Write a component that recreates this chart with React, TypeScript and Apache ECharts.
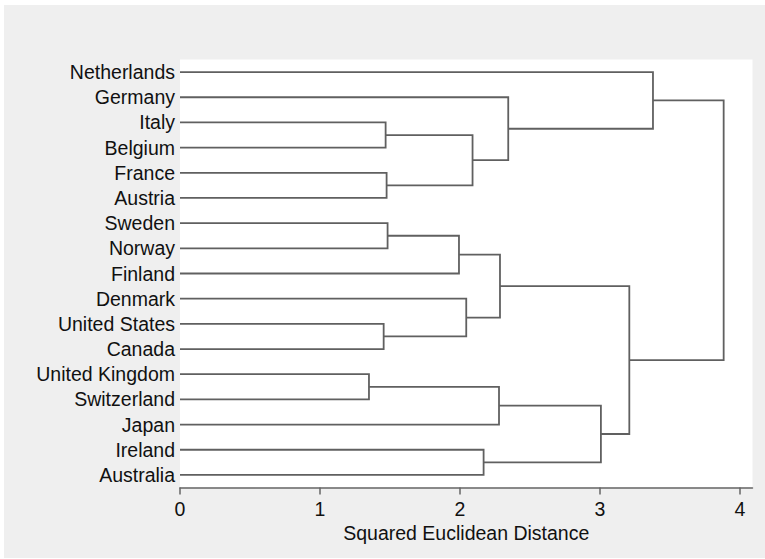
import React, { useEffect, useRef } from 'react';
import * as echarts from 'echarts';

// Leaves, top to bottom
const leaves = [
  'Netherlands', 'Germany', 'Italy', 'Belgium', 'France', 'Austria',
  'Sweden', 'Norway', 'Finland', 'Denmark', 'United States', 'Canada',
  'United Kingdom', 'Switzerland', 'Japan', 'Ireland', 'Australia',
];

// Merges: node ids 0..16 are leaves, merge i creates node 17 + i
const mergeA = [2, 4, 10, 6, 12, 17, 20, 9, 23, 21, 15, 1, 26, 25, 0, 31];
const mergeB = [3, 5, 11, 7, 13, 18, 8, 19, 24, 14, 16, 22, 27, 29, 28, 30];
const mergeHeight = [
  1.469, 1.476, 1.455, 1.483, 1.35, 2.09, 1.993, 2.045, 2.286, 2.279, 2.169,
  2.345, 3.007, 3.21, 3.379, 3.884,
];

const xTicks = [0, 1, 2, 3, 4];
const axisTitle = 'Squared Euclidean Distance';

const FONT = '"Liberation Sans", Arial, Helvetica, sans-serif';

function buildSegments() {
  const nodeX: number[] = leaves.map(() => 0);
  const nodeY: number[] = leaves.map((_, i) => i);
  const segs: { coords: number[][] }[] = [];
  mergeA.forEach((a, i) => {
    const b = mergeB[i];
    const h = mergeHeight[i];
    segs.push({
      coords: [
        [nodeX[a], nodeY[a]],
        [h, nodeY[a]],
        [h, nodeY[b]],
        [nodeX[b], nodeY[b]],
      ],
    });
    nodeX.push(h);
    nodeY.push((nodeY[a] + nodeY[b]) / 2);
  });
  return segs;
}

export default function App() {
  const ref = useRef<HTMLDivElement>(null);
  useEffect(() => {
    if (!ref.current) return;
    const chart = echarts.init(ref.current, undefined, { renderer: 'svg' });
    const leafIdx = leaves.map((_, i) => i);
    chart.setOption({
      animation: false,
      backgroundColor: '#efefef',
      grid: {
        left: 176,
        right: 12.5,
        top: 54.5,
        bottom: 70.5,
        show: true,
        backgroundColor: '#ffffff',
        borderWidth: 0,
      },
      xAxis: {
        type: 'value',
        position: 'bottom',
        min: 0,
        max: 4.09,
        interval: 1,
        splitLine: { show: false },
        axisLine: { show: true, onZero: false, lineStyle: { color: '#666666', width: 1.5 } },
        axisTick: {
          show: true,
          length: 7,
          customValues: xTicks,
          lineStyle: { color: '#666666', width: 1.5 },
        },
        axisLabel: {
          customValues: xTicks,
          color: '#111111',
          fontSize: 19.5,
          fontFamily: FONT,
          margin: 11,
        },
        name: axisTitle,
        nameLocation: 'middle',
        nameGap: 30.5,
        nameTextStyle: { color: '#111111', fontSize: 19.5, fontFamily: FONT },
      },
      yAxis: {
        type: 'value',
        inverse: true,
        min: -0.5,
        max: 16.5,
        splitLine: { show: false },
        axisLine: { show: false, onZero: false },
        axisTick: { show: false, customValues: leafIdx },
        axisLabel: {
          customValues: leafIdx,
          formatter: (v: number) => leaves[Math.round(v)] ?? '',
          color: '#111111',
          fontSize: 19.5,
          fontFamily: FONT,
          margin: 5,
        },
      },
      series: [
        {
          type: 'lines',
          coordinateSystem: 'cartesian2d',
          polyline: true,
          silent: true,
          data: buildSegments(),
          lineStyle: { color: '#606060', width: 1.8, opacity: 1 },
        },
      ],
    });
    return () => chart.dispose();
  }, []);
  return (
    <div
      ref={ref}
      style={{ position: 'absolute', left: 4, top: 5, width: 761, height: 553 }}
    />
  );
}
